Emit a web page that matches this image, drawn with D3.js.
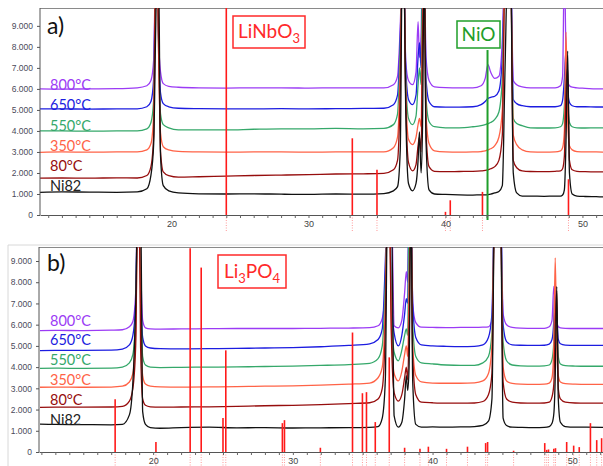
<!DOCTYPE html>
<html><head><meta charset="utf-8">
<script src="https://cdn.jsdelivr.net/npm/d3@7"></script>
<style>body{margin:0;background:#fff}svg{display:block}</style>
</head><body>
<svg id="c" width="603" height="466"></svg>
<script>
// ---------- DATA ----------
const seriesNames = ["800°C","650°C","550°C","350°C","80°C","Ni82"];
const seriesColors = ["#9b3bf5","#1c1ce0","#35a86a","#ff6347","#960d0d","#111111"];

// panel a) 2-theta grid and intensities
const aTheta = [10.4,12,14,16,17.5,18.2,18.5,18.7,18.85,18.95,
 19.05,19.2,19.4,19.8,20.5,22,24,26,28,30,
 32,34,35.5,36.2,36.5,36.7,36.85,36.95,37.1,37.3,
 37.6,37.85,38.0,38.1,38.22,38.32,38.45,38.58,38.8,39.2,
 40,41,42,42.6,42.9,43.1,43.3,43.6,43.9,44.15,
 44.35,44.55,44.75,44.95,45.2,45.6,46.2,47.2,48.0,48.4,
 48.55,48.68,48.8,48.92,49.05,49.25,49.6,50.2,51.0,51.6];
const a800 = [6000,5990,6000,6010,6050,6150,6400,7400,12000,12000,
 8500,6800,6250,6120,6080,6050,6040,6050,6050,6040,
 6050,6050,6050,6200,6600,9000,12000,12000,7300,6400,
 6200,6800,9200,7500,8500,12000,12000,7500,6400,6100,
 6060,6050,6050,6150,6500,7150,6800,6500,6600,8300,
 12000,12000,12000,6400,6200,6100,6050,6050,6050,6150,
 6600,12000,7600,6400,6150,6080,6050,6030,6000,6000];
const a650 = [5050,5050,5040,5050,5050,5150,5400,6500,12000,12000,
 8500,5800,5300,5150,5080,5060,5050,5050,5060,5050,
 5060,5070,5080,5250,5700,8500,12000,12000,7000,5500,
 5250,5700,7500,8200,7000,12000,12000,6500,5400,5150,
 5130,5130,5150,5250,5400,5550,5600,5650,5900,7500,
 12000,12000,12000,5500,5300,5200,5150,5150,5150,5200,
 5450,6500,7850,6000,5350,5200,5150,5150,5140,5140];
const a550 = [4000,4000,3990,4000,4000,4100,4400,5500,12000,12000,
 8000,4800,4300,4150,4050,4050,4050,4080,4100,4100,
 4120,4100,4120,4300,4800,8000,12000,12000,6500,4600,
 4300,4700,6200,7000,6200,12000,12000,5600,4450,4200,
 4150,4150,4200,4250,4300,4350,4400,4550,4900,6500,
 12000,12000,12000,4600,4350,4250,4150,4140,4150,4200,
 4350,5200,7000,5300,4400,4200,4150,4140,4150,4140];
const a350 = [2980,3000,2990,3000,3000,3100,3400,4800,12000,12000,
 8000,3900,3250,3100,3030,3000,2990,3000,3000,2990,
 3000,3000,3000,3200,3700,7000,12000,12000,6000,3600,
 3350,3700,4300,4600,4200,9000,12000,4800,3400,3050,
 3000,2990,3000,3020,3050,3100,3150,3300,3700,5000,
 12000,12000,12000,3800,3350,3100,3000,2990,3000,3050,
 3200,4000,8700,4500,3300,3100,3020,3000,3000,2990];
const a80 = [1750,1760,1750,1770,1760,1880,2300,3800,12000,12000,
 9000,3000,2050,1870,1800,1820,1850,1880,1900,1920,
 1950,1960,1980,2150,2600,6000,12000,12000,5500,2500,
 2100,2400,3300,3700,3000,8000,12000,4000,2300,2080,
 2060,2070,2080,2100,2120,2150,2200,2300,2600,3800,
 12000,12000,12000,2600,2250,2100,2070,2060,2080,2100,
 2200,2800,6000,7000,2600,2150,2080,2060,2050,2050];
const aNi82 = [1080,1100,1090,1080,1100,1250,1900,3400,9000,12000,
 12000,2800,1400,1150,1050,1010,1000,1010,990,980,
 1000,990,1020,1150,1350,3100,12000,12000,5000,1500,
 1150,1500,2600,3950,2000,4000,12000,3500,1200,1000,
 980,960,950,960,960,970,990,1050,1120,1400,
 7000,12000,12000,2000,1050,900,900,890,900,900,
 950,1200,3500,7800,2000,1000,900,880,870,860];

// panel b)
const bTheta = [11.9,13,15,17,17.8,18.3,18.55,18.75,18.9,19.0,
 19.1,19.25,19.45,19.8,20.5,22,24,26,28,30,
 32,34,35.5,36.1,36.4,36.62,36.78,36.9,37.05,37.25,
 37.55,37.8,38.0,38.12,38.22,38.32,38.45,38.58,38.8,39.2,
 40,41,42,43,43.6,44.0,44.25,44.45,44.65,44.85,
 45.05,45.3,45.7,46.3,47.3,48.0,48.35,48.55,48.68,48.78,
 48.89,49.0,49.15,49.5,50.2,51.0,52.2];
const b800 = [5720,5730,5720,5740,5760,5900,6150,7500,12000,12000,
 9000,6200,5850,5800,5790,5800,5810,5820,5820,5820,
 5830,5840,5860,5950,6300,7600,12000,12000,12000,5950,
 5850,6200,7500,8500,8000,12000,12000,7000,6100,5880,
 5870,5860,5870,5870,5880,5900,6200,12000,12000,12000,
 6500,6000,5870,5840,5830,5830,5900,6200,7800,7000,
 6200,5900,5850,5830,5820,5820,5820];
const b650 = [4780,4790,4790,4800,4850,5050,5500,7000,12000,12000,
 8000,5400,5000,4900,4870,4860,4870,4880,4900,4920,
 4960,5020,5100,5300,5800,9000,12000,12000,7500,5600,
 5000,5500,6500,7230,7000,12000,12000,7000,5400,5050,
 5000,4980,4970,4980,5050,5400,6500,12000,12000,12000,
 6000,5200,5050,5030,5020,5030,5080,5300,6200,7960,
 6500,5300,5100,5040,5020,5020,5020];
const b550 = [3940,3950,3940,3950,4000,4200,4600,6500,12000,12000,
 8000,4500,4100,4000,3980,3990,4000,4010,4030,4050,
 4080,4120,4180,4400,5000,8000,12000,12000,7000,4700,
 4300,4800,5500,5800,5500,12000,12000,6000,4500,4200,
 4150,4100,4080,4080,4200,4500,5600,12000,12000,12000,
 5200,4300,4100,4060,4050,4060,4100,4350,5200,7130,
 6000,4500,4150,4070,4050,4040,4040];
const b350 = [3050,3060,3050,3060,3100,3300,3700,5500,12000,12000,
 7000,3600,3200,3100,3070,3060,3070,3080,3100,3120,
 3150,3200,3250,3500,4000,7000,12000,12000,6000,3700,
 3350,3800,4600,5000,4500,8000,12000,5000,3600,3300,
 3250,3240,3240,3260,3350,3700,5000,12000,12000,12000,
 4000,3350,3230,3200,3190,3200,3250,3500,5000,9150,
 5000,3600,3300,3220,3200,3190,3190];
const b80 = [2100,2110,2110,2120,2150,2400,3000,5000,12000,12000,
 5000,2500,2200,2130,2110,2120,2130,2150,2180,2200,
 2230,2280,2320,2500,3000,6000,12000,12000,5500,2800,
 2400,2700,3500,4000,3400,6000,12000,4500,2700,2350,
 2320,2300,2300,2310,2380,2700,3700,12000,12000,12000,
 3300,2500,2350,2310,2300,2310,2350,2600,3200,6000,
 7600,3000,2500,2350,2310,2300,2300];
const bNi82 = [1310,1300,1290,1280,1300,1750,3300,7000,12000,12000,
 12000,1900,1300,1150,1120,1150,1170,1140,1150,1130,
 1140,1150,1160,1200,1600,3400,12000,12000,12000,1700,
 1170,1400,2500,3600,2900,4000,12000,3300,1300,1170,
 1180,1170,1180,1200,1250,1450,2500,12000,12000,12000,
 1600,1250,1170,1160,1150,1160,1200,1350,1800,3500,
 7800,2500,1400,1200,1170,1170,1160];

// reference patterns
const liNbO3Pos = [24.0, 33.2, 35.0, 40.0, 40.35, 42.7, 48.98];
const liNbO3Int = [10000, 3650, 2150, 150, 700, 1100, 1700];
const nioPos = [43.07];
const nioInt = [7850];
const li3po4Pos = [17.28, 20.2, 22.65, 23.44, 25.0, 25.2, 29.25, 29.4, 31.97, 34.27, 34.98, 35.27, 35.9, 36.9,
  38.0, 39.1, 39.7, 41.0, 42.5, 43.8, 43.94, 45.8, 48.03, 48.17, 48.3, 48.68, 48.8, 49.6, 50.1, 50.5, 51.3, 51.75, 52.1];
const li3po4Int = [2490, 470, 9600, 8690, 1600, 4790, 1360, 1500, 200, 5630, 2770, 2820, 1410, 4460,
  200, 150, 250, 150, 250, 420, 470, 60, 420, 100, 120, 150, 180, 470, 300, 230, 1360, 560, 650];

const yTicks = [0,1000,2000,3000,4000,5000,6000,7000,8000,9000];
const xTickLabels = [20,30,40,50];

// ---------- DRAW ----------
const svg = d3.select("#c");
const fmtY = v => v === 0 ? "0" : (v/1000) + ".000";

function drawPanel(p) {
  const x = d3.scaleLinear().domain(p.xDomain).range([p.x0, p.x1]);
  const y = d3.scaleLinear().domain(p.yDomain).range([p.y1, p.y0]);
  const g = svg.append("g");
  const clipId = "clip" + p.id;
  g.append("clipPath").attr("id", clipId).append("rect")
    .attr("x", p.x0).attr("y", p.y0).attr("width", p.x1 - p.x0).attr("height", p.y1 - p.y0);

  if (p.frame) {
    g.append("path").attr("d", `M${p.frame[0]},466V${p.frame[1]}H603`)
      .attr("fill","none").attr("stroke","#d8d8d8").attr("stroke-width",1);
  }
  g.append("line").attr("x1", p.x0).attr("x2", p.x1).attr("y1", p.y0 + 0.5).attr("y2", p.y0 + 0.5)
    .attr("stroke", "#8a8a8a").attr("stroke-width", 1.2);

  const sticks = p.sticks;
  g.append("g").selectAll("line").data(sticks.pos).join("line")
    .attr("x1", d => x(d)).attr("x2", d => x(d))
    .attr("y1", p.y1).attr("y2", p.yExt)
    .attr("stroke", "#ff9a9a").attr("stroke-width", 1).attr("stroke-dasharray", "1,1.5");

  const cg = g.append("g").attr("clip-path", `url(#${clipId})`);
  const line = d3.line().x(d => x(d[0])).y(d => y(d[1])).curve(d3.curveMonotoneX);
  p.series.forEach((s, i) => {
    const pts = p.theta.map((t, k) => [t, s[k]]);
    cg.append("path").attr("d", line(pts)).attr("fill", "none")
      .attr("stroke", seriesColors[i]).attr("stroke-width", 1.3).attr("stroke-linejoin", "round");
  });

  const sg = g.append("g").attr("clip-path", `url(#${clipId})`);
  sg.selectAll("line").data(sticks.pos).join("line")
    .attr("x1", d => x(d)).attr("x2", d => x(d))
    .attr("y1", p.y1).attr("y2", (d, i) => y(sticks.int[i]))
    .attr("stroke", "#ff1a1a").attr("stroke-width", 1.6);
  if (p.green) {
    g.selectAll(".nio").data(p.green.pos).join("line").attr("class","nio")
      .attr("x1", d => x(d)).attr("x2", d => x(d))
      .attr("y1", p.y1 + 5).attr("y2", (d, i) => y(p.green.int[i]))
      .attr("stroke", "#1f9e2a").attr("stroke-width", 2);
  }

  const ya = g.append("g").attr("transform", `translate(${p.x0},0)`)
    .call(d3.axisLeft(y).tickValues(yTicks).tickSize(3).tickSizeOuter(0).tickFormat(fmtY));
  ya.select(".domain").attr("stroke", "#555");
  ya.selectAll(".tick line").attr("stroke", "#555");
  ya.selectAll("text").attr("font-family", "Liberation Sans, Arial, sans-serif")
    .attr("font-size", 8.5).attr("fill", "#4a4a5a").attr("dx", -1);
  ya.select(".domain").attr("d", `M0,${p.y0}V${p.y1}`);

  const xa = g.append("g").attr("transform", `translate(0,${p.y1})`)
    .call(d3.axisBottom(x).tickValues(d3.range(Math.ceil(p.xDomain[0]), p.xDomain[1], 1))
      .tickSize(3).tickSizeOuter(0).tickFormat(d => xTickLabels.includes(d) ? d : ""));
  xa.select(".domain").attr("stroke", "#555");
  xa.selectAll(".tick line").attr("stroke", "#666");
  xa.selectAll("text").attr("font-family", "Liberation Sans, Arial, sans-serif")
    .attr("font-size", 9).attr("fill", "#444");

  g.append("text").attr("x", 47).attr("y", p.labelY).text(p.label)
    .attr("font-family", "Lato, Open Sans, sans-serif").attr("font-size", 23).attr("fill", "#111");

  p.seriesLabelY.forEach((ly, i) => {
    g.append("text").attr("x", 50).attr("y", ly).text(seriesNames[i])
      .attr("font-family", "Lato, Open Sans, sans-serif").attr("font-size", 14.5)
      .attr("fill", i === 5 ? "#222" : seriesColors[i]);
  });

  p.boxes.forEach(b => {
    g.append("rect").attr("x", b.x).attr("y", b.y).attr("width", b.w).attr("height", b.h)
      .attr("fill", "#fff").attr("stroke", b.color).attr("stroke-width", 1.5);
    const t = g.append("text").attr("x", b.x + b.w / 2).attr("y", b.y + b.h / 2 + 6)
      .attr("text-anchor", "middle").attr("font-family", "Lato, Open Sans, sans-serif")
      .attr("font-size", 19).attr("fill", b.color);
    b.parts.forEach(pt => {
      const ts = t.append("tspan").text(pt[0]);
      if (pt[1] === "sub") ts.attr("font-size", 13).attr("dy", 5);
      else if (pt[1] === "back") ts.attr("dy", -5);
    });
  });
}

drawPanel({
  id: "a", x0: 40, x1: 603, y0: 8, y1: 215, yExt: 231,
  xDomain: [10.4, 51.5], yDomain: [0, 9850], theta: aTheta,
  series: [a800, a650, a550, a350, a80, aNi82],
  sticks: { pos: liNbO3Pos, int: liNbO3Int },
  green: { pos: nioPos, int: nioInt },
  label: "a)", labelY: 34,
  seriesLabelY: [90, 110, 131, 151, 171, 191],
  boxes: [
    { x: 233, y: 16, w: 72, h: 32, color: "#ff2a2a", parts: [["LiNbO"], ["3", "sub"]] },
    { x: 457, y: 21, w: 43, h: 27, color: "#1f9e2a", parts: [["NiO"]] }
  ]
});

drawPanel({
  id: "b", x0: 39, x1: 603, y0: 247, y1: 452, yExt: 466, frame: [8, 245],
  xDomain: [11.83, 52.2], yDomain: [0, 9660], theta: bTheta,
  series: [b800, b650, b550, b350, b80, bNi82],
  sticks: { pos: li3po4Pos, int: li3po4Int },
  label: "b)", labelY: 271,
  seriesLabelY: [326, 345, 365, 385, 405, 425],
  boxes: [
    { x: 218, y: 255, w: 68, h: 33, color: "#ff2a2a", parts: [["Li"], ["3", "sub"], ["PO", "back"], ["4", "sub"]] }
  ]
});
</script>
</body></html>
